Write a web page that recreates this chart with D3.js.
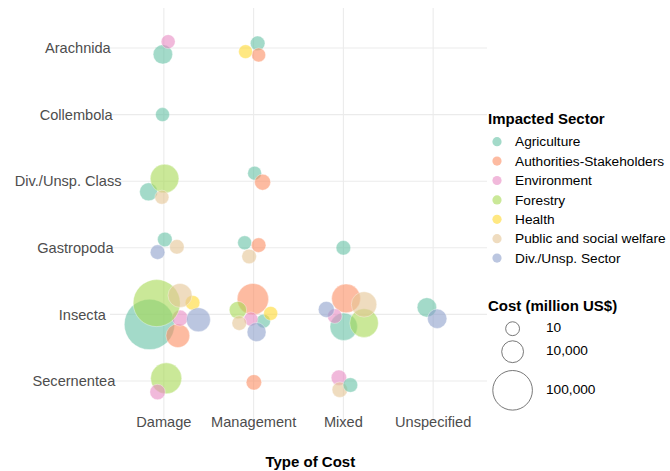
<!DOCTYPE html>
<html>
<head>
<meta charset="utf-8">
<script src="https://cdn.jsdelivr.net/npm/d3@7"></script>
<style>
  html, body { margin: 0; padding: 0; background: #fff; }
  svg { display: block; font-family: "Liberation Sans", Arial, sans-serif; }
</style>
</head>
<body>
<svg id="chart" width="670" height="471"></svg>
<script>
// ---------- data ----------
const classes = ["Arachnida", "Collembola", "Div./Unsp. Class", "Gastropoda", "Insecta", "Secernentea"];
const costTypes = ["Damage", "Management", "Mixed", "Unspecified"];
const sectors = ["Agriculture", "Authorities-Stakeholders", "Environment", "Forestry", "Health", "Public and social welfare", "Div./Unsp. Sector"];
const sectorColors = ["#66c2a5", "#fc8d62", "#e78ac3", "#a6d854", "#ffd92f", "#e5c494", "#8da0cb"];
const sizeBreaks = [10, 10000, 100000];
const sizeBreakLabels = ["10", "10,000", "100,000"];

// one entry per bubble (parallel arrays)
const pointClass = [
  "Arachnida","Arachnida","Arachnida","Arachnida","Arachnida",
  "Collembola",
  "Div./Unsp. Class","Div./Unsp. Class","Div./Unsp. Class","Div./Unsp. Class","Div./Unsp. Class",
  "Gastropoda","Gastropoda","Gastropoda","Gastropoda","Gastropoda","Gastropoda","Gastropoda",
  "Insecta","Insecta","Insecta","Insecta","Insecta","Insecta","Insecta",
  "Insecta","Insecta","Insecta","Insecta","Insecta","Insecta","Insecta",
  "Insecta","Insecta","Insecta","Insecta","Insecta","Insecta",
  "Insecta","Insecta",
  "Secernentea","Secernentea","Secernentea","Secernentea","Secernentea","Secernentea"
];
const pointType = [
  "Damage","Damage","Management","Management","Management",
  "Damage",
  "Damage","Damage","Damage","Management","Management",
  "Damage","Damage","Damage","Management","Management","Management","Mixed",
  "Damage","Damage","Damage","Damage","Damage","Damage","Damage",
  "Management","Management","Management","Management","Management","Management","Management",
  "Mixed","Mixed","Mixed","Mixed","Mixed","Mixed",
  "Unspecified","Unspecified",
  "Damage","Damage","Management","Mixed","Mixed","Mixed"
];
const pointSector = [
  "Agriculture","Environment","Agriculture","Authorities-Stakeholders","Health",
  "Agriculture",
  "Agriculture","Forestry","Public and social welfare","Agriculture","Authorities-Stakeholders",
  "Agriculture","Public and social welfare","Div./Unsp. Sector","Agriculture","Authorities-Stakeholders","Public and social welfare","Agriculture",
  "Agriculture","Authorities-Stakeholders","Environment","Forestry","Health","Public and social welfare","Div./Unsp. Sector",
  "Agriculture","Authorities-Stakeholders","Environment","Forestry","Health","Public and social welfare","Div./Unsp. Sector",
  "Agriculture","Authorities-Stakeholders","Environment","Forestry","Public and social welfare","Div./Unsp. Sector",
  "Agriculture","Div./Unsp. Sector",
  "Forestry","Environment","Authorities-Stakeholders","Environment","Public and social welfare","Agriculture"
];
// cost in million US$
const pointCost = [
  5000, 24, 150, 24, 10,
  24,
  2900, 33300, 24, 10, 850,
  150, 150, 150, 24, 150, 150, 150,
  200000, 15100, 850, 165000, 150, 16000, 16000,
  10, 46900, 24, 2100, 24, 150, 4300,
  28200, 34200, 150, 33300, 20600, 850,
  5000, 5000,
  44800, 480, 480, 480, 480, 150
];
// jitter offsets, in category steps (x: right, y: up)
const jitterX = [
  -0.011, 0.048, 0.045, 0.056, -0.09,
  -0.015,
  -0.17, 0.008, -0.022, 0.011, 0.10,
  0.011, 0.145, -0.07, -0.10, 0.056, -0.05, 0.0,
  -0.16, 0.156, 0.18, -0.08, 0.32, 0.18, 0.385,
  0.11, -0.008, -0.03, -0.175, 0.19, -0.16, 0.033,
  0.004, 0.03, -0.096, 0.23, 0.23, -0.19,
  -0.07, 0.045,
  0.026, -0.07, 0.003, -0.05, -0.04, 0.078
];
const jitterY = [
  -0.096, 0.095, 0.07, -0.105, -0.055,
  0.0,
  -0.16, 0.04, -0.24, 0.12, -0.015,
  0.125, 0.015, -0.065, 0.075, 0.04, -0.13, 0.0,
  -0.15, -0.32, -0.055, 0.17, 0.175, 0.285, -0.08,
  -0.10, 0.23, -0.07, 0.065, 0.015, -0.13, -0.265,
  -0.185, 0.24, -0.025, -0.13, 0.15, 0.075,
  0.105, -0.065,
  0.04, -0.165, -0.02, 0.05, -0.13, -0.06
];

// ---------- layout ----------
const svg = d3.select("#chart");
const panel = { left: 110, right: 487, top: 8, bottom: 421 };
const textColor = "#4d4d4d";

const x = d3.scalePoint().domain(costTypes).range([panel.left, panel.right]).padding(0.6);
const y = d3.scalePoint().domain(classes).range([panel.top, panel.bottom]).padding(0.6);
const r = d3.scaleSqrt().domain([0, 100000]).range([6.8, 19.8]);
const color = d3.scaleOrdinal().domain(sectors).range(sectorColors);

// gridlines
const grid = svg.append("g").attr("stroke", "#ebebeb").attr("stroke-width", 1.1);
grid.selectAll("line.h").data(classes).join("line").attr("class", "h")
  .attr("x1", panel.left).attr("x2", panel.right)
  .attr("y1", d => y(d)).attr("y2", d => y(d));
grid.selectAll("line.v").data(costTypes).join("line").attr("class", "v")
  .attr("y1", panel.top).attr("y2", panel.bottom)
  .attr("x1", d => x(d)).attr("x2", d => x(d));

// y-axis labels
const yLab = svg.append("g").attr("font-size", "14.6px").attr("fill", textColor);
yLab.selectAll("text").data(classes).join("text")
  .attr("y", d => y(d)).attr("dy", "0.35em")
  .text(d => d)
  .each(function() {
    const w = this.getComputedTextLength();
    d3.select(this).attr("x", 93.4 - 0.736 * w);
  });

// x-axis labels
svg.append("g").attr("font-size", "14.6px").attr("fill", textColor)
  .selectAll("text").data(costTypes).join("text")
  .attr("x", d => x(d)).attr("y", 422).attr("dy", "0.35em")
  .attr("text-anchor", "middle").text(d => d);

// axis title
svg.append("text").attr("y", 462).attr("dy", "0.35em")
  .attr("font-size", "15px").attr("font-weight", "bold")
  .attr("fill", "#000").text("Type of Cost")
  .each(function() {
    const w = this.getComputedTextLength();
    d3.select(this).attr("x", (panel.left + panel.right) / 2 - 0.736 * w / 2);
  });

// bubbles
const pts = d3.range(pointCost.length).map(i => ({
  cls: pointClass[i], type: pointType[i], sector: pointSector[i],
  cost: pointCost[i], jx: jitterX[i], jy: jitterY[i]
}));
svg.append("g").selectAll("circle").data(pts).join("circle")
  .attr("cx", d => x(d.type) + d.jx * x.step())
  .attr("cy", d => y(d.cls) - d.jy * y.step())
  .attr("r", d => r(d.cost))
  .attr("fill", d => color(d.sector))
  .attr("fill-opacity", 0.6)
  .attr("stroke", "#ffffff")
  .attr("stroke-opacity", 0.45)
  .attr("stroke-width", 0.8);

// colour legend
const lg = svg.append("g");
lg.append("text").attr("x", 488).attr("y", 118.5).attr("dy", "0.35em")
  .attr("font-size", "15px").attr("font-weight", "bold").attr("fill", "#000").text("Impacted Sector");
const rowY = i => 141.7 + i * 19.4;
lg.selectAll("circle").data(sectors).join("circle")
  .attr("cx", 497).attr("cy", (d, i) => rowY(i)).attr("r", 4.6)
  .attr("fill", d => color(d)).attr("fill-opacity", 0.6);
lg.selectAll("text.item").data(sectors).join("text").attr("class", "item")
  .attr("x", 515).attr("y", (d, i) => rowY(i)).attr("dy", "0.35em")
  .attr("font-size", "13.7px").attr("fill", "#000").text(d => d);

// size legend
const sg = svg.append("g");
sg.append("text").attr("class", "title").attr("x", 488).attr("y", 306).attr("dy", "0.35em")
  .attr("font-size", "15px").attr("font-weight", "bold").attr("fill", "#000").text("Cost (million US$)");
const sizeY = [328.7, 351.7, 390.3];
sg.selectAll("circle").data(sizeBreaks).join("circle")
  .attr("cx", 512.6).attr("cy", (d, i) => sizeY[i]).attr("r", d => r(d))
  .attr("fill", "#fff").attr("stroke", "#555").attr("stroke-width", 0.8);
sg.selectAll("text.lab").data(sizeBreakLabels).join("text").attr("class", "lab")
  .attr("x", 546).attr("y", (d, i) => sizeY[i] - 1.5).attr("dy", "0.35em")
  .attr("font-size", "13.7px").attr("fill", "#000").text(d => d);
</script>
</body>
</html>
